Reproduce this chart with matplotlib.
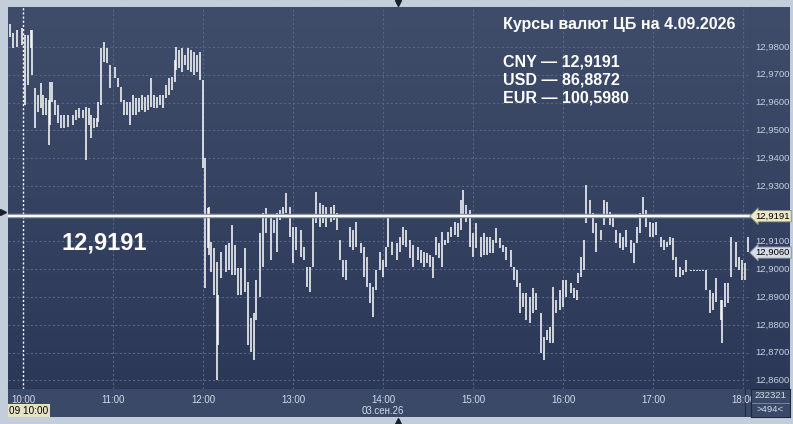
import numpy as np
import matplotlib.pyplot as plt
from matplotlib.colors import LinearSegmentedColormap

plt.rcParams['font.family'] = ['Liberation Sans', 'DejaVu Sans']

# --- DATA: bars (minutes from 10:00, high, low) ---
minutes = [-9, -7, -4, -1, 1, 3, 5, 6, 8, 10, 12, 13, 15, 17, 18, 19, 21, 23, 25, 27,
           30, 33, 35, 37, 40, 42, 44, 45, 47, 49, 50, 52, 54, 56, 58, 61, 63, 65, 67, 69,
           71, 73, 75, 77, 79, 81, 83, 85, 87, 89, 91, 93, 95, 97, 99, 101, 102, 104, 106, 108,
           110, 112, 114, 116, 118, 120, 121, 123, 124, 125, 127, 129, 130, 132, 135, 137, 139, 141, 143, 145,
           148, 150, 152, 154, 155, 158, 160, 162, 165, 167, 169, 171, 173, 175, 178, 180, 182, 185, 187, 189,
           191, 193, 195, 198, 200, 202, 205, 207, 209, 211, 213, 215, 218, 220, 222, 225, 227, 229, 231, 233,
           235, 238, 240, 242, 243, 246, 249, 251, 253, 255, 258, 260, 263, 265, 267, 269, 271, 273, 275, 277,
           279, 281, 283, 285, 288, 290, 292, 293, 295, 298, 300, 302, 305, 307, 309, 311, 313, 315, 318, 320,
           322, 325, 327, 329, 331, 333, 335, 338, 340, 342, 345, 347, 349, 351, 353, 355, 358, 360, 362, 365,
           367, 369, 370, 372, 374, 375, 378, 380, 382, 385, 387, 389, 391, 393, 395, 398, 400, 402, 405, 407,
           409, 411, 413, 415, 418, 420, 422, 425, 427, 429, 431, 433, 435, 438, 440, 442, 445, 447, 449, 451,
           453, 455, 458, 460, 462, 465, 466, 468, 470, 472, 475, 477, 479, 481, 483]
highs = [12.9883, 12.9850, 12.9861, 12.9868, 12.9843, 12.9843, 12.9861, 12.9861, 12.9652, 12.9627,
         12.9670, 12.9627, 12.9616, 12.9609, 12.9674, 12.9674, 12.9609, 12.9591, 12.9555, 12.9555,
         12.9555, 12.9555, 12.9573, 12.9580, 12.9573, 12.9584, 12.9580, 12.9555, 12.9544, 12.9544,
         12.9602, 12.9796, 12.9818, 12.9796, 12.9735, 12.9728, 12.9688, 12.9656, 12.9609, 12.9602,
         12.9602, 12.9627, 12.9616, 12.9616, 12.9627, 12.9620, 12.9627, 12.9688, 12.9627, 12.9620,
         12.9627, 12.9627, 12.9663, 12.9688, 12.9692, 12.9753, 12.9800, 12.9789, 12.9796, 12.9771,
         12.9796, 12.9789, 12.9782, 12.9771, 12.9782, 12.9681, 12.9400, 12.9220, 12.9224, 12.9098,
         12.9076, 12.9026, 12.8907, 12.9062, 12.9087, 12.9094, 12.9159, 12.9087, 12.9004, 12.9004,
         12.9076, 12.8954, 12.8824, 12.8842, 12.8961, 12.9130, 12.9202, 12.9220, 12.9188, 12.9177,
         12.9202, 12.9213, 12.9224, 12.9274, 12.9224, 12.9152, 12.9152, 12.9141, 12.9080, 12.9008,
         12.9008, 12.9188, 12.9278, 12.9238, 12.9231, 12.9224, 12.9224, 12.9231, 12.9202, 12.9105,
         12.9033, 12.9033, 12.9152, 12.9141, 12.9170, 12.9094, 12.9080, 12.9044, 12.8950, 12.8936,
         12.8997, 12.9062, 12.9033, 12.9080, 12.9195, 12.9098, 12.9094, 12.9116, 12.9152, 12.9141,
         12.9105, 12.9087, 12.9080, 12.9069, 12.9062, 12.9058, 12.9051, 12.9044, 12.9116, 12.9094,
         12.9134, 12.9105, 12.9134, 12.9152, 12.9170, 12.9166, 12.9249, 12.9285, 12.9231, 12.9213,
         12.9130, 12.9166, 12.9116, 12.9130, 12.9116, 12.9116, 12.9105, 12.9148, 12.9112, 12.9087,
         12.9080, 12.9069, 12.9008, 12.8997, 12.8950, 12.8914, 12.8914, 12.8900, 12.8932, 12.8914,
         12.8842, 12.8756, 12.8781, 12.8792, 12.8936, 12.8889, 12.8925, 12.8961, 12.8961, 12.8950,
         12.8932, 12.8925, 12.8986, 12.9044, 12.9105, 12.9303, 12.9249, 12.9202, 12.9166, 12.9141,
         12.9249, 12.9242, 12.9206, 12.9188, 12.9141, 12.9130, 12.9116, 12.9141, 12.9105, 12.9094,
         12.9152, 12.9202, 12.9260, 12.9213, 12.9170, 12.9166, 12.9170, 12.9116, 12.9105, 12.9098,
         12.9116, 12.9112, 12.9044, 12.9008, 12.8997, 12.9033, 12.8997, 12.8997, 12.8997, 12.8997,
         12.8997, 12.8997, 12.8925, 12.8914, 12.8968, 12.8889, 12.8889, 12.8950, 12.8950, 12.9116,
         12.9098, 12.9044, 12.9033, 12.9022, 12.9116]
lows = [12.9836, 12.9796, 12.9800, 12.9807, 12.9591, 12.9663, 12.9796, 12.9699, 12.9508, 12.9566,
        12.9580, 12.9555, 12.9555, 12.9447, 12.9519, 12.9602, 12.9555, 12.9526, 12.9508, 12.9508,
        12.9512, 12.9519, 12.9537, 12.9544, 12.9544, 12.9393, 12.9519, 12.9472, 12.9508, 12.9512,
        12.9530, 12.9591, 12.9746, 12.9742, 12.9652, 12.9688, 12.9656, 12.9602, 12.9555, 12.9555,
        12.9519, 12.9555, 12.9555, 12.9566, 12.9573, 12.9566, 12.9573, 12.9584, 12.9580, 12.9580,
        12.9591, 12.9580, 12.9616, 12.9627, 12.9645, 12.9674, 12.9717, 12.9724, 12.9710, 12.9735,
        12.9717, 12.9710, 12.9699, 12.9710, 12.9681, 12.9364, 12.8932, 12.9076, 12.9051, 12.8990,
        12.8907, 12.8601, 12.8727, 12.8968, 12.8990, 12.8997, 12.8979, 12.8979, 12.8907, 12.8907,
        12.8918, 12.8727, 12.8702, 12.8673, 12.8817, 12.8900, 12.9008, 12.9130, 12.9033, 12.9130,
        12.9062, 12.9177, 12.9188, 12.9202, 12.9116, 12.9022, 12.9069, 12.9044, 12.9033, 12.8936,
        12.8918, 12.9008, 12.9166, 12.9152, 12.9166, 12.9152, 12.9170, 12.9177, 12.9141, 12.9033,
        12.8972, 12.8961, 12.9080, 12.9069, 12.9080, 12.9058, 12.8972, 12.8936, 12.8878, 12.8828,
        12.8925, 12.8997, 12.8972, 12.9008, 12.9080, 12.9051, 12.9033, 12.9062, 12.9087, 12.9080,
        12.9040, 12.9008, 12.9033, 12.9022, 12.9008, 12.9022, 12.9008, 12.8968, 12.9051, 12.9040,
        12.9008, 12.9087, 12.9094, 12.9116, 12.9123, 12.9116, 12.9141, 12.9188, 12.9170, 12.9080,
        12.9044, 12.9076, 12.9044, 12.9051, 12.9051, 12.9058, 12.9058, 12.9094, 12.9076, 12.9062,
        12.9033, 12.9008, 12.8961, 12.8936, 12.8842, 12.8864, 12.8817, 12.8806, 12.8842, 12.8853,
        12.8698, 12.8673, 12.8745, 12.8734, 12.8734, 12.8842, 12.8853, 12.8864, 12.8900, 12.8914,
        12.8896, 12.8889, 12.8950, 12.8972, 12.8997, 12.9166, 12.9188, 12.9130, 12.9062, 12.9105,
        12.9159, 12.9195, 12.9159, 12.9152, 12.9094, 12.9076, 12.9069, 12.9080, 12.9058, 12.9022,
        12.9094, 12.9130, 12.9184, 12.9152, 12.9116, 12.9116, 12.9123, 12.9080, 12.9069, 12.9080,
        12.9087, 12.9033, 12.8972, 12.8972, 12.8979, 12.8990, 12.8993, 12.8993, 12.8993, 12.8993,
        12.8993, 12.8925, 12.8842, 12.8853, 12.8882, 12.8817, 12.8734, 12.8864, 12.8878, 12.8972,
        12.9008, 12.8997, 12.8961, 12.8961, 12.9062]

price_ticks = [12.86, 12.87, 12.88, 12.89, 12.90, 12.91, 12.92, 12.93, 12.94, 12.95, 12.96, 12.97, 12.98]
hour_ticks = [0, 60, 120, 180, 240, 300, 360, 420, 480]
hour_labels = ['10:00', '11:00', '12:00', '13:00', '14:00', '15:00', '16:00', '17:00', '18:00']

cb_rate = 12.9191
last_price = 12.9060
title = 'Курсы валют ЦБ на 4.09.2026'
rate_lines = ['CNY — 12,9191', 'USD — 86,8872', 'EUR — 100,5980']
date_label = '03.сен.26'
cursor_label = '03.09 10:00'
volume_label = '232321'
count_label = '>494<'

# --- LAYOUT ---
W, H = 793, 424
X_MIN, X_MAX = -10, 485.3
Y_MIN, Y_MAX = 12.8569, 12.9944


def box(x0, y0, x1, y1):
    # pixel box (top-left origin) -> figure fraction
    return [x0 / W, 1 - y1 / H, (x1 - x0) / W, (y1 - y0) / H]


def fmt(v):
    return f'{v:.4f}'.replace('.', ',')


bg_main = LinearSegmentedColormap.from_list('bg', ['#2b3857', '#3f4d6b'])
grad = np.linspace(0, 1, 256).reshape(-1, 1)

fig = plt.figure(figsize=(W / 100, H / 100), dpi=100, facecolor='#c4cedb')

# main chart
ax = fig.add_axes(box(8, 7, 751, 389))
ax.imshow(grad, cmap=bg_main, origin='lower', aspect='auto',
          extent=[X_MIN, X_MAX, Y_MIN, Y_MAX], zorder=0)
ax.set_xlim(X_MIN, X_MAX)
ax.set_ylim(Y_MIN, Y_MAX)
for p in price_ticks:
    ax.axhline(p, color='#56668a', lw=0.8, ls=(0, (2, 2)), zorder=1)
for t in hour_ticks[1:]:
    ax.axvline(t, color='#56668a', lw=0.8, ls=(0, (2, 2)), zorder=1)
ax.axvline(0, color='white', lw=1.0, ls=(0, (1.5, 1.5)), zorder=2)

ax.vlines(minutes, lows, highs, color='white', lw=1.1, zorder=3)

ax.axhline(cb_rate, color='#8e9ab2', lw=3.2, zorder=4)
ax.axhline(cb_rate, color='white', lw=1.4, zorder=5)

ax.text(54, 12.9094, fmt(cb_rate), color='white', fontsize=17, fontweight='bold',
        ha='center', va='center', zorder=6)
ax.set_xticks([])
ax.set_yticks([])
for s in ax.spines.values():
    s.set_visible(False)
ax.spines['bottom'].set_visible(True)
ax.spines['right'].set_visible(True)
ax.spines['bottom'].set_color('#0d1220')
ax.spines['right'].set_color('#0d1220')

fig.text(503 / W, 1 - 24 / H, title, color='white', fontsize=11.5, fontweight='bold',
         ha='left', va='center')
for i, line in enumerate(rate_lines):
    fig.text(503 / W, 1 - (62 + 18 * i) / H, line, color='white', fontsize=11.5,
             fontweight='bold', ha='left', va='center')

# right price scale
ax_r = fig.add_axes(box(751, 7, 790, 389))
ax_r.imshow(grad, cmap=bg_main, origin='lower', aspect='auto',
            extent=[0, 1, Y_MIN, Y_MAX], zorder=0)
ax_r.set_xlim(0, 1)
ax_r.set_ylim(Y_MIN, Y_MAX)
ax_r.axis('off')
for p in price_ticks:
    # the label under the CB-rate tag is hidden in the original
    if abs(p - cb_rate) < 0.0015:
        continue
    ax_r.text(0.1, p, fmt(p), color='#c9d1e0', fontsize=6.8, ha='left', va='center')
ax_r.text(0.12, cb_rate, fmt(cb_rate), color='black', fontsize=6.8, ha='left', va='center',
          zorder=5, bbox=dict(boxstyle='larrow,pad=0.12', fc='#ebe8c8', ec='#8f8f80', lw=0.6))
ax_r.text(0.12, last_price, fmt(last_price), color='black', fontsize=6.8, ha='left', va='center',
          zorder=5, bbox=dict(boxstyle='larrow,pad=0.12', fc='#d6dbe5', ec='#7d8699', lw=0.6))

# bottom time scale
ax_b = fig.add_axes(box(8, 389, 751, 417))
ax_b.set_facecolor('#3b4968')
ax_b.set_xlim(X_MIN, X_MAX)
ax_b.set_ylim(0, 1)
ax_b.set_xticks([])
ax_b.set_yticks([])
for s in ax_b.spines.values():
    s.set_visible(False)
for t, lab in zip(hour_ticks, hour_labels):
    txt = ax_b.text(t, 0.6, lab, color='#d4dbe8', fontsize=7, ha='center', va='center')
    txt.set_clip_box(ax_b.bbox)
    txt.set_clip_on(True)
ax_b.text(240, 0.2, date_label, color='#d4dbe8', fontsize=7, ha='center', va='center')
cur = ax_b.text(17, 0.22, cursor_label, color='black', fontsize=7.2, ha='right', va='center',
                bbox=dict(boxstyle='square,pad=0.15', fc='#e6e3c4', ec='none'))
cur.set_clip_box(ax_b.bbox)
cur.set_clip_on(True)
ax_b.axvline(481.5, color='#1e2740', lw=0.8)

# bottom-right box
ax_br = fig.add_axes(box(751, 389, 790, 417))
ax_br.set_facecolor('#3b4968')
ax_br.set_xlim(0, 1)
ax_br.set_ylim(0, 1)
ax_br.set_xticks([])
ax_br.set_yticks([])
for s in ax_br.spines.values():
    s.set_color('#1e2740')
    s.set_linewidth(0.8)
ax_br.axhline(0.5, color='#8090ad', lw=0.6)
ax_br.text(0.5, 0.75, volume_label, color='#d4dbe8', fontsize=6.8, ha='center', va='center')
ax_br.text(0.5, 0.27, count_label, color='#d4dbe8', fontsize=6.8, ha='center', va='center')

# frame markers
ov = fig.add_axes([0, 0, 1, 1], facecolor='none')
ov.set_xlim(0, W)
ov.set_ylim(H, 0)
ov.axis('off')
ov.plot([398], [3], marker='v', color='#1a2030', ms=5)
ov.plot([398], [421], marker='^', color='#1a2030', ms=5)
ov.plot([3], [212], marker='>', color='#1a2030', ms=5)

fig.savefig('out.png', dpi=100, facecolor=fig.get_facecolor())
